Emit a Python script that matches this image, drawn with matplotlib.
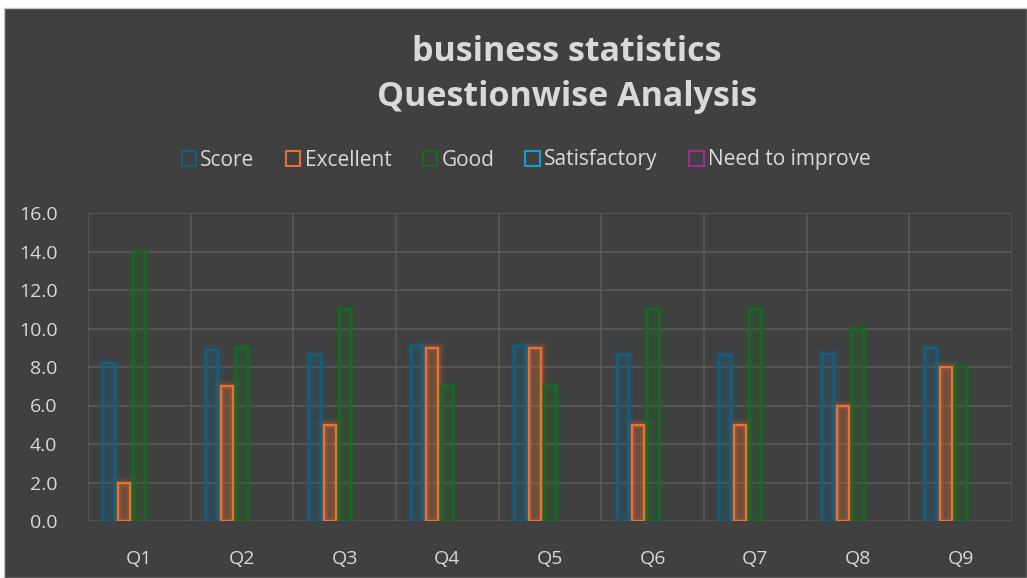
import numpy as np
import matplotlib.pyplot as plt
from matplotlib.patches import Rectangle, Patch

# ==== Daten ====
questions = ["Q1", "Q2", "Q3", "Q4", "Q5", "Q6", "Q7", "Q8", "Q9"]
score = [8.2, 8.9, 8.6, 9.1, 9.1, 8.6, 8.6, 8.7, 9.0]
excellent = [2, 7, 5, 9, 9, 5, 5, 6, 8]
good = [14, 9, 11, 7, 7, 11, 11, 10, 8]
satisfactory = [0, 0, 0, 0, 0, 0, 0, 0, 0]
need_to_improve = [0, 0, 0, 0, 0, 0, 0, 0, 0]

series_names = ["Score", "Excellent", "Good", "Satisfactory", "Need to improve"]
series_values = [score, excellent, good, satisfactory, need_to_improve]
colors = ["#156082", "#E97132", "#196B24", "#0F9ED5", "#A02B93"]

bg = "#404040"
text_col = "#D9D9D9"
grid_col = "#595959"

plt.rcParams['font.family'] = ['Open Sans', 'DejaVu Sans']

fig = plt.figure(figsize=(10.27, 5.78), dpi=100, facecolor="white")
# dunkler Hintergrund mit weissem Rand oben/links
fig.patches.append(Rectangle((4 / 1027, 0), 1 - 4 / 1027, 1 - 8 / 578,
                             transform=fig.transFigure, facecolor=bg,
                             edgecolor="#C8C8C8", linewidth=1.0, zorder=-5))

ax = fig.add_axes([88 / 1027, 57 / 578, 924 / 1027, 308 / 578])
ax.set_facecolor(bg)

x = np.arange(len(questions))
step = 0.146
width = 0.117

for i, (name, vals, c) in enumerate(zip(series_names, series_values, colors)):
    xs = x + (i - 2) * step
    vals = np.array(vals, dtype=float)
    mask = vals > 0
    if not mask.any():
        continue
    # Glow-Effekt
    for lw, a in [(9, 0.07), (6, 0.10), (3.5, 0.16)]:
        ax.bar(xs[mask], vals[mask], width=width, facecolor="none",
               edgecolor=c, linewidth=lw, alpha=a, zorder=2)
    ax.bar(xs[mask], vals[mask], width=width, color=c, alpha=0.22,
           linewidth=0, zorder=3)
    ax.bar(xs[mask], vals[mask], width=width, facecolor="none",
           edgecolor=c, linewidth=1.6, zorder=4)

ax.set_xlim(-0.5, len(questions) - 0.5)
ax.set_ylim(0, 16)
ax.set_yticks(np.arange(0, 17, 2))
ax.set_yticklabels([f"{v:.1f}" for v in np.arange(0, 17, 2)])
ax.set_xticks(x)
ax.set_xticklabels(questions)
ax.set_xticks(np.arange(-0.5, len(questions), 1), minor=True)

ax.grid(axis="y", which="major", color=grid_col, linewidth=1.2, zorder=0)
ax.grid(axis="x", which="minor", color=grid_col, linewidth=1.2, zorder=0)
ax.set_axisbelow(True)
for s in ax.spines.values():
    s.set_visible(False)
ax.tick_params(axis="both", which="both", length=0, colors=text_col, labelsize=14)
ax.tick_params(axis="x", pad=21)
ax.tick_params(axis="y", pad=22)

fig.text(567 / 1027, 1 - 52 / 578, "business statistics", ha="center", va="center",
         fontsize=24.5, fontweight="bold", color=text_col)
fig.text(567 / 1027, 1 - 97 / 578, "Questionwise Analysis", ha="center", va="center",
         fontsize=24.5, fontweight="bold", color=text_col)

handles = [Patch(facecolor="none", edgecolor=c, linewidth=1.5, label=n)
           for n, c in zip(series_names, colors)]
fig.legend(handles=handles, loc="center", bbox_to_anchor=(526 / 1027, 1 - 160 / 578),
           ncol=5, frameon=False, fontsize=15, labelcolor=text_col,
           handlelength=0.7, handleheight=0.7, handletextpad=0.2, columnspacing=1.5)

fig.savefig("out.png", dpi=100, facecolor=fig.get_facecolor())
